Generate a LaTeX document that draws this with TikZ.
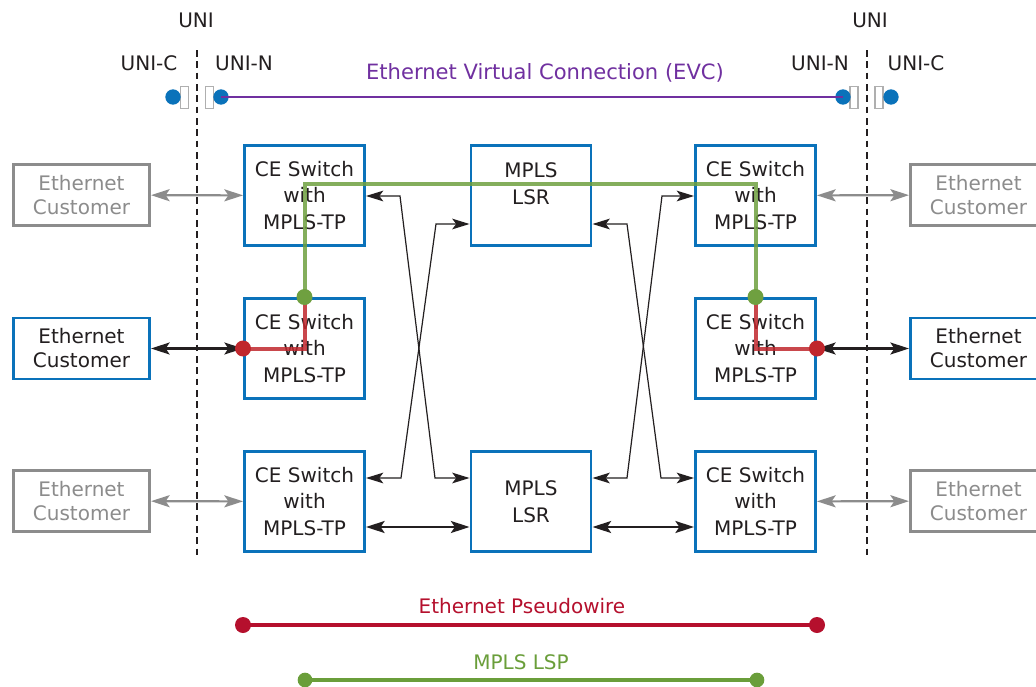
\documentclass[tikz,border=0pt]{standalone}
\usepackage{fontspec}
\setmainfont{DejaVu Sans}
\usetikzlibrary{arrows.meta,calc}
\definecolor{bblue}{HTML}{0A72BA}
\definecolor{txt}{HTML}{231F20}
\definecolor{gtxt}{HTML}{8C8C8C}
\definecolor{purp}{HTML}{7030A0}
\definecolor{gline}{HTML}{6FA040}
\definecolor{rline}{HTML}{C0272D}
\definecolor{lred}{HTML}{B5102D}
\definecolor{lgreen}{HTML}{6A9E3A}
\begin{document}
\begin{tikzpicture}[x=0.75pt,y=-0.75pt,
  every node/.style={text=txt, font=\fontsize{15}{20}\selectfont},
  cebox/.style={draw=bblue, line width=2.2pt, minimum width=90pt, minimum height=75pt, inner sep=0pt, align=center},
  custbox/.style={draw=bblue, line width=2.2pt, minimum width=102pt, minimum height=45.75pt, inner sep=0pt, align=center, font=\fontsize{15}{18}\selectfont},
  graybox/.style={custbox, draw=gtxt, text=gtxt},
  thinarr/.style={draw=txt, line width=0.9pt, {Stealth[length=13pt,width=8pt,inset=3pt]}-{Stealth[length=13pt,width=8pt,inset=3pt]}},
  boldarr/.style={draw=txt, line width=1.6pt, {Stealth[length=14pt,width=9pt,inset=3pt]}-{Stealth[length=14pt,width=9pt,inset=3pt]}},
  grayarr/.style={boldarr, draw=gtxt},
  unidash/.style={draw=txt, line width=1pt, dash pattern=on 5pt off 3.5pt},
  bdot/.style={circle, fill=bblue, minimum size=11.5pt, inner sep=0pt},
  port/.style={draw=gtxt!70, line width=0.8pt, fill=white, minimum width=6pt, minimum height=16pt, inner sep=0pt},
  gpath/.style={draw=gline, line width=3pt, opacity=0.85},
  rpath/.style={draw=rline, line width=3pt, opacity=0.85},
  gdot/.style={circle, fill=gline, minimum size=12pt, inner sep=0pt},
  rdot/.style={circle, fill=rline, minimum size=12pt, inner sep=0pt},
]
\clip (0,0) rectangle (1036,686);
\fill[white] (0,0) rectangle (1036,686);

% UNI labels
\node (uniL) at (196,20) {UNI};
\node (uniR) at (870,20) {UNI};
\node (unicL) at (149,63) {UNI-C};
\node (uninL) at (244,63) {UNI-N};
\node (uninR) at (820,63) {UNI-N};
\node (unicR) at (916,63) {UNI-C};

% dashed UNI lines
\coordinate (dLt) at (197,50); \coordinate (dLb) at (197,556);
\coordinate (dRt) at (867,50); \coordinate (dRb) at (867,556);
\draw[unidash] (dLt) -- (dLb);
\draw[unidash] (dRt) -- (dRb);

% EVC
\node[text=purp, font=\fontsize{15.8}{20}\selectfont] (evc) at (545,73) {Ethernet Virtual Connection (EVC)};
\node[port] (pL1) at (184.5,97.5) {};
\node[port] (pL2) at (209.5,97.5) {};
\node[port] (pR1) at (854,97.5) {};
\node[port] (pR2) at (879,97.5) {};
\node[bdot] (dL1) at (173,97) {};
\node[bdot] (dL2) at (221,97) {};
\node[bdot] (dR1) at (843,97) {};
\node[bdot] (dR2) at (891,97) {};
\draw[purp, line width=1.6pt] (dL2.center) -- (dR1.center);

% customer boxes
\node[graybox] (gL1) at (81.5,195) {Ethernet\\Customer};
\node[custbox] (eL) at (81.5,348.5) {Ethernet\\Customer};
\node[graybox] (gL3) at (81.5,501) {Ethernet\\Customer};
\node[graybox] (gR1) at (978.5,195) {Ethernet\\Customer};
\node[custbox] (eR) at (978.5,348.5) {Ethernet\\Customer};
\node[graybox] (gR3) at (978.5,501) {Ethernet\\Customer};

% CE switches
\node[cebox] (ceTL) at (304.5,195.5) {CE Switch\\with\\MPLS-TP};
\node[cebox] (ceML) at (304.5,348.5) {CE Switch\\with\\MPLS-TP};
\node[cebox] (ceBL) at (304.5,501.5) {CE Switch\\with\\MPLS-TP};
\node[cebox] (ceTR) at (755.5,195.5) {CE Switch\\with\\MPLS-TP};
\node[cebox] (ceMR) at (755.5,348.5) {CE Switch\\with\\MPLS-TP};
\node[cebox] (ceBR) at (755.5,501.5) {CE Switch\\with\\MPLS-TP};

% LSRs
\node[cebox] (lsrT) at (531,195.5) {};
\node[align=center] (lsrTt) at (531,184) {MPLS\\LSR};
\node[cebox] (lsrB) at (531,501.5) {MPLS\\LSR};

% customer links
\draw[grayarr] (gL1) -- (ceTL);
\draw[boldarr] (eL) -- (ceML);
\draw[grayarr] (gL3) -- (ceBL);
\draw[grayarr] (gR1) -- (ceTR);
\draw[boldarr] (eR) -- (ceMR);
\draw[grayarr] (gR3) -- (ceBR);

% bottom horizontal links
\coordinate (hb) at (0,527);
\draw[boldarr] (ceBL.east |- hb) -- (lsrB.west |- hb);
\draw[boldarr] (lsrB.east |- hb) -- (ceBR.west |- hb);

% crossing links
\coordinate (a1) at (400,196); \coordinate (a2) at (435,478);
\draw[thinarr] (ceTL.east |- a1) -- (a1) -- (a2) -- (lsrB.west |- a2);
\coordinate (b1) at (401,478); \coordinate (b2) at (436,224);
\draw[thinarr] (ceBL.east |- b1) -- (b1) -- (b2) -- (lsrT.west |- b2);
\coordinate (c1) at (627,224); \coordinate (c2) at (661,478);
\draw[thinarr] (lsrT.east |- c1) -- (c1) -- (c2) -- (ceBR.west |- c2);
\coordinate (d1) at (662,196); \coordinate (d2) at (627,478);
\draw[thinarr] (ceTR.west |- d1) -- (d1) -- (d2) -- (lsrB.east |- d2);

% LSP and pseudowire paths
\coordinate (gdLc) at (304.5,297);
\coordinate (gdRc) at (755.5,297);
\coordinate (gcL) at (304.5,184);
\coordinate (gcR) at (755.5,184);
\draw[gpath] (gdLc) -- (gcL) -- (gcR) -- (gdRc);
\draw[rpath] (ceML.west) -- (ceML.center) -- (gdLc);
\draw[rpath] (gdRc) -- (ceMR.center) -- (ceMR.east);
\node[gdot] (gdL) at (gdLc) {};
\node[gdot] (gdR) at (gdRc) {};
\node[rdot] (rdL) at (ceML.west) {};
\node[rdot] (rdR) at (ceMR.east) {};

% legend
\node[text=lred] (pwt) at (522,606) {Ethernet Pseudowire};
\node[circle, fill=lred, minimum size=12pt, inner sep=0pt] (pw1) at (243,625) {};
\node[circle, fill=lred, minimum size=12pt, inner sep=0pt] (pw2) at (817,625) {};
\draw[lred, line width=3pt] (pw1.center) -- (pw2.center);
\node[text=lgreen] (lspt) at (521,662) {MPLS LSP};
\node[circle, fill=lgreen, minimum size=11pt, inner sep=0pt] (ls1) at (305,680) {};
\node[circle, fill=lgreen, minimum size=11pt, inner sep=0pt] (ls2) at (757,680) {};
\draw[lgreen, line width=3pt] (ls1.center) -- (ls2.center);
\end{tikzpicture}
\end{document}
